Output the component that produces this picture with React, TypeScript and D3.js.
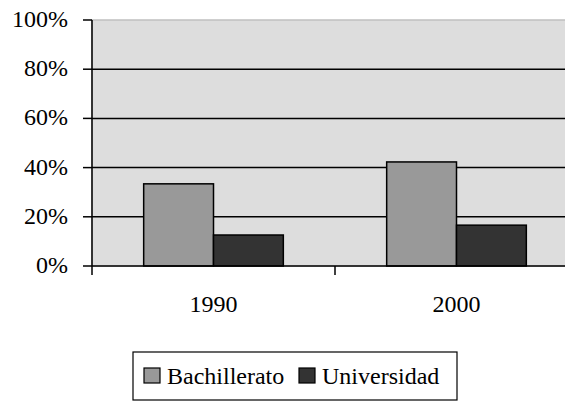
import { scaleBand, scaleLinear } from "d3";

const categories = ["1990", "2000"];
const seriesNames = ["Bachillerato", "Universidad"];
const bachillerato = [33.4, 42.3];
const universidad = [12.6, 16.6];
const yTicks = [0, 20, 40, 60, 80, 100];

const seriesColors = ["#999999", "#333333"];
const seriesValues = [bachillerato, universidad];

const textStyle = { fontFamily: '"Liberation Serif", "Times New Roman", Times, serif', fontSize: "24px" };

export default function App() {
  const width = 565;
  const height = 402;
  const plot = { left: 92, right: 578, top: 20, bottom: 266 };

  const x0 = scaleBand<string>().domain(categories).range([plot.left, plot.right]);
  const x1 = scaleBand<string>()
    .domain(seriesNames)
    .range([0, x0.bandwidth()])
    .paddingInner(0)
    .paddingOuter(0.74);
  const y = scaleLinear().domain([0, 100]).range([plot.bottom, plot.top]);

  const legendX = 133;
  const legendY = 352;

  return (
    <svg
      width={width}
      height={height}
      viewBox={`0 0 ${width} ${height}`}
      style={{ position: "absolute", left: 0, top: 0, background: "#ffffff" }}
    >
      <rect x={plot.left} y={plot.top} width={plot.right - plot.left} height={plot.bottom - plot.top} fill="#dddddd" stroke="#c0c0c0" strokeWidth={1.5} />

      {yTicks.map((t) => (
        <g key={t}>
          {t > 0 && t < 100 ? (
            <line x1={plot.left} x2={plot.right} y1={y(t)} y2={y(t)} stroke="#000" strokeWidth={1.5} />
          ) : null}
          <line x1={plot.left - 9} x2={plot.left} y1={y(t)} y2={y(t)} stroke="#000" strokeWidth={1.5} />
          <text x={68} y={y(t) + 7} textAnchor="end" style={textStyle} fill="#000">
            {`${t}%`}
          </text>
        </g>
      ))}

      {categories.map((c, ci) => (
        <g key={c}>
          {seriesNames.map((s, si) => {
            const v = seriesValues[si][ci];
            const bx = (x0(c) ?? 0) + (x1(s) ?? 0);
            return (
              <rect
                key={s}
                x={bx}
                y={y(v)}
                width={x1.bandwidth()}
                height={y(0) - y(v)}
                fill={seriesColors[si]}
                stroke="#000"
                strokeWidth={1.5}
              />
            );
          })}
          <text x={(x0(c) ?? 0) + x0.bandwidth() / 2} y={312} textAnchor="middle" style={textStyle} fill="#000">
            {c}
          </text>
        </g>
      ))}

      <line x1={plot.left} x2={plot.right} y1={plot.bottom} y2={plot.bottom} stroke="#000" strokeWidth={1.5} />
      <line x1={plot.left} x2={plot.left} y1={plot.top} y2={plot.bottom + 9} stroke="#000" strokeWidth={1.5} />
      {categories.slice(1).map((c) => (
        <line key={c} x1={x0(c) ?? 0} x2={x0(c) ?? 0} y1={plot.bottom} y2={plot.bottom + 9} stroke="#000" strokeWidth={1.5} />
      ))}

      <rect x={legendX} y={legendY} width={324} height={48} fill="#fff" stroke="#000" strokeWidth={1.2} />
      {seriesNames.map((s, si) => {
        const sx = legendX + (si === 0 ? 11 : 166);
        return (
          <g key={s}>
            <rect x={sx} y={legendY + 16} width={16} height={15} fill={seriesColors[si]} stroke="#000" strokeWidth={1.2} />
            <text x={sx + 23} y={legendY + 32} style={textStyle} fill="#000">
              {s}
            </text>
          </g>
        );
      })}
    </svg>
  );
}
